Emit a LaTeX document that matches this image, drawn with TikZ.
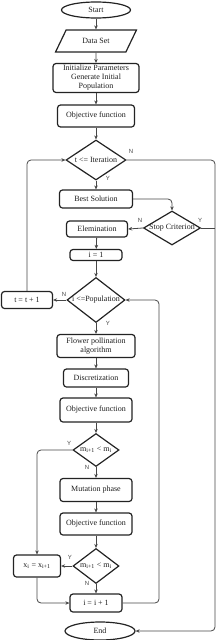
\documentclass[tikz,border=0pt]{standalone}
\usepackage{fontspec}
\setmainfont{Liberation Serif}
\setsansfont{Liberation Sans}
\usepackage{xcolor}
\usetikzlibrary{arrows.meta,calc,shapes.geometric}
\definecolor{boxborder}{RGB}{35,35,35}
\definecolor{flowline}{RGB}{70,70,70}
\definecolor{textdark}{RGB}{30,30,30}

\begin{document}
\begin{tikzpicture}[
    x=1pt, y=-1pt,
    >={Stealth[length=4pt, width=3.5pt]},
    every node/.style={font=\fontsize{8}{9}\selectfont, text=textdark},
    procbox/.style={draw=boxborder, line width=1.2pt, rounded corners=3pt, inner sep=0pt, align=center},
    termbox/.style={draw=boxborder, line width=1.2pt, ellipse, inner sep=0pt},
    databox/.style={draw=boxborder, line width=1.2pt, trapezium, trapezium left angle=48, trapezium right angle=132, trapezium stretches=true, inner sep=0pt},
    decbox/.style={draw=boxborder, line width=1.2pt, diamond, inner sep=0pt},
    flow/.style={draw=flowline, line width=0.8pt, rounded corners=4pt},
    yn/.style={font=\fontsize{6}{7}\sffamily, text=flowline, inner sep=0pt}
]

% Canvas
\useasboundingbox (0,0) rectangle (222,640);

% COLUMNS
% main column at x = 96, left column at x = 27 / 37, right rails at x = 159 / 215
\def\cMain{96}
\def\cLeft{27}
\def\cSwap{37}
\def\cLoop{159}
\def\cRight{215}

% Initialisation
\node[termbox, minimum width=69pt, minimum height=16pt] (start) at (\cMain, 10) {Start};
\node[databox, minimum width=81pt, minimum height=22pt] (data) at (\cMain, 41) {Data Set};
\node[procbox, minimum width=86pt, minimum height=29pt] (init) at (\cMain, 78) {Initialize Parameters\\Generate Initial\\Population};
\node[procbox, minimum width=77pt, minimum height=22pt] (objA) at (\cMain, 116) {Objective function};

% Outer loop
\node[decbox, minimum width=60pt, minimum height=40pt, label={center:t <= Iteration}] (iter) at (\cMain, 160) {};
\node[procbox, minimum width=73pt, minimum height=18pt] (best) at (\cMain, 199) {Best Solution};
\node[decbox, minimum width=57pt, minimum height=34pt, label={center:Stop Criterion}] (stop) at (172, 228) {};
\node[procbox, minimum width=61pt, minimum height=16pt] (elim) at (97, 229) {Elemination};
\node[procbox, minimum width=52pt, minimum height=11pt] (ione) at (\cMain, 255) {i = 1};
\node[procbox, minimum width=51pt, minimum height=17pt] (tinc) at (\cLeft, 300) {t = t + 1};

% Inner loop
\node[decbox, minimum width=58pt, minimum height=45pt, label={center:i <=Population}] (pop) at (\cMain, 300) {};
\node[procbox, minimum width=78pt, minimum height=23pt] (fpa) at (\cMain, 346) {Flower pollination\\algorithm};
\node[procbox, minimum width=65pt, minimum height=18pt] (disc) at (\cMain, 378) {Discretization};
\node[procbox, minimum width=72pt, minimum height=24pt] (objB) at (\cMain, 410) {Objective function};
\node[decbox, minimum width=46pt, minimum height=33pt, label={center:m\textsubscript{i+1} < m\textsubscript{i}}] (cmpA) at (\cMain, 450) {};
\node[procbox, minimum width=72pt, minimum height=23pt] (mut) at (\cMain, 490) {Mutation phase};
\node[procbox, minimum width=72pt, minimum height=22pt] (objC) at (\cMain, 524) {Objective function};
\node[decbox, minimum width=46pt, minimum height=35pt, label={center:m\textsubscript{i+1} < m\textsubscript{i}}] (cmpB) at (\cMain, 566) {};
\node[procbox, minimum width=47pt, minimum height=22pt] (swap) at (\cSwap, 566) {x\textsubscript{i} = x\textsubscript{i+1}};
\node[procbox, minimum width=52pt, minimum height=18pt] (iinc) at (\cMain, 603) {i = i + 1};
\node[termbox, minimum width=70pt, minimum height=18pt] (finish) at (100, 631) {End};

% Rail corners
\coordinate (rtop) at (\cRight, 160);
\coordinate (ploop) at (\cLoop, 300);

% Branch labels
\node[yn] (iterN) at (131, 151) {N};
\node[yn] (iterY) at (108, 178) {Y};
\node[yn] (stopN) at (140, 220) {N};
\node[yn] (stopY) at (200, 220) {Y};
\node[yn] (popN) at (64, 294) {N};
\node[yn] (popY) at (108, 323) {Y};
\node[yn] (cmpAY) at (69, 443) {Y};
\node[yn] (cmpAN) at (87, 467) {N};
\node[yn] (cmpBY) at (70, 557) {Y};
\node[yn] (cmpBN) at (87, 583) {N};

% Main flow
\draw[flow, ->] (start) -- (data);
\draw[flow, ->] (data) -- (init);
\draw[flow, ->] (init) -- (objA);
\draw[flow, ->] (objA) -- (iter);
\draw[flow, ->] (iter) -- (best);
\draw[flow, ->] (best.east) -| (stop.north);
\draw[flow, ->] (stop.west) -- (elim.east);
\draw[flow, ->] (elim) -- (ione);
\draw[flow, ->] (ione) -- (pop);
\draw[flow, ->] (pop) -- (fpa);
\draw[flow, ->] (fpa) -- (disc);
\draw[flow, ->] (disc) -- (objB);
\draw[flow, ->] (objB) -- (cmpA);
\draw[flow, ->] (cmpA) -- (mut);
\draw[flow, ->] (mut) -- (objC);
\draw[flow, ->] (objC) -- (cmpB);
\draw[flow, ->] (cmpB) -- (iinc);

% Branches
\draw[flow, ->] (cmpA.west) -| (swap.north);
\draw[flow, ->] (cmpB.west) -- (swap.east);
\draw[flow, ->] (swap.south) |- (iinc.west);
\draw[flow, ->] (iinc.east) -| (ploop) -- (pop.east);
\draw[flow, ->] (pop.west) -- (tinc.east);
\draw[flow, ->] (tinc.north) |- (iter.west);

% Exit rail
\draw[flow, ->] (iter.east) -- (rtop) |- (finish.east);
\draw[flow] (stop.east) -- (stop.east -| rtop);

\end{tikzpicture}
\end{document}
